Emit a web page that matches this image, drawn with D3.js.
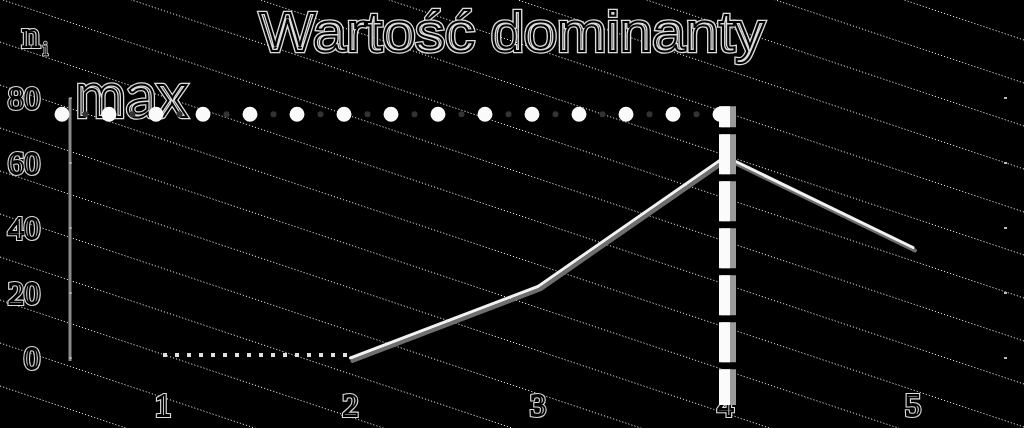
<!DOCTYPE html>
<html>
<head>
<meta charset="utf-8">
<script src="https://cdn.jsdelivr.net/npm/d3@7"></script>
<style>
  html, body { margin: 0; padding: 0; background: #000; }
  svg { display: block; filter: grayscale(1); }
</style>
</head>
<body>
<svg id="chart" width="1024" height="428"></svg>
<script>
// values
const categories = [1, 2, 3, 4, 5];
const counts = [0, 0, 22, 62, 34];
const yTicks = [0, 20, 40, 60, 80];
const maxLevel = 75;      // level of the dotted "max" line
const modeCategory = 4;   // where the dashed marker stands

const width = 1024;
const height = 428;

const svg = d3.select("#chart");

svg.append("rect")
  .attr("width", width)
  .attr("height", height)
  .attr("fill", "#000");

const x = d3.scalePoint().domain(categories).range([163, 913]);
const y = d3.scaleLinear().domain([0, 80]).range([358, 98]);

// slanted dotted background lines
const slope = 0.334;
const gap = 43;
svg.append("g")
  .selectAll("line")
  .data(d3.range(-9, 11))
  .join("line")
  .attr("x1", 0)
  .attr("y1", (k) => k * gap - 1)
  .attr("x2", width)
  .attr("y2", (k) => k * gap - 1 + slope * width)
  .attr("stroke", "#e6e6e6")
  .attr("stroke-width", 1)
  .attr("stroke-dasharray", "1.2,2");

// outlined text helper (double edge look)
function outlined(g, txt, attrs, outer, inner) {
  const a = g.append("text").text(txt);
  const b = g.append("text").text(txt);
  Object.entries(attrs).forEach(([k, v]) => { a.attr(k, v); b.attr(k, v); });
  a.attr("fill", "none").attr("stroke", "#dcdcdc").attr("stroke-width", outer);
  b.attr("fill", "none").attr("stroke", "#000").attr("stroke-width", inner);
  return [a, b];
}

const labels = svg.append("g");

// title
outlined(labels, "Wartość dominanty", {
  x: 512, y: 51, "text-anchor": "middle",
  "font-family": "'Liberation Sans', sans-serif", "font-size": 56,
  textLength: 505, lengthAdjust: "spacingAndGlyphs"
}, 4.5, 2);

// y tick labels
yTicks.forEach((t) => {
  outlined(labels, t, {
    x: 40, y: y(t) + 11, "text-anchor": "end",
    "font-family": "'Liberation Serif', serif", "font-size": 32
  }, 4, 1.8);
});

// x tick labels
categories.forEach((c) => {
  outlined(labels, c, {
    x: x(c), y: 416, "text-anchor": "middle",
    "font-family": "'Liberation Serif', serif", "font-size": 32
  }, 4, 1.8);
});

// n_i axis title
outlined(labels, "n", {
  x: 22, y: 47, "font-family": "'Liberation Serif', serif", "font-size": 36
}, 4, 1.8);
outlined(labels, "i", {
  x: 43, y: 55, "font-family": "'Liberation Serif', serif", "font-size": 18
}, 2.5, 1);

// "max" label
outlined(labels, "max", {
  x: 75, y: 117, "font-family": "Lato, 'Open Sans', sans-serif", "font-size": 62
}, 4.5, 2);

// y axis line with small ticks
const axisX = 70;
svg.append("line")
  .attr("x1", axisX).attr("x2", axisX)
  .attr("y1", y(80)).attr("y2", y(0) + 3)
  .attr("stroke", "#8a8a8a")
  .attr("stroke-width", 3);
svg.append("g")
  .selectAll("line")
  .data(yTicks)
  .join("line")
  .attr("x1", axisX - 1).attr("x2", axisX + 2)
  .attr("y1", (d) => y(d)).attr("y2", (d) => y(d))
  .attr("stroke", "#cfcfcf")
  .attr("stroke-width", 1);

// little right-side tick marks
svg.append("g")
  .selectAll("rect")
  .data(yTicks)
  .join("rect")
  .attr("x", 1004).attr("y", (d) => y(d) - 1)
  .attr("width", 3).attr("height", 2)
  .attr("fill", "#bbb");

// dotted zero stretch between the first two categories
svg.append("line")
  .attr("x1", x(categories[0])).attr("x2", x(categories[1]))
  .attr("y1", y(counts[0]) - 3).attr("y2", y(counts[1]) - 3)
  .attr("stroke", "#e0e0e0")
  .attr("stroke-width", 4)
  .attr("stroke-dasharray", "4,8");

// main line from the second category on
const pts = categories.map((c, i) => [x(c), y(counts[i])]).slice(1);
const line = d3.line();
svg.append("path")
  .attr("d", line(pts))
  .attr("transform", "translate(2,3)")
  .attr("fill", "none")
  .attr("stroke", "#6e6e6e")
  .attr("stroke-width", 4)
  .attr("stroke-linecap", "round")
  .attr("stroke-linejoin", "round");
svg.append("path")
  .attr("d", line(pts))
  .attr("fill", "none")
  .attr("stroke", "#f2f2f2")
  .attr("stroke-width", 3)
  .attr("stroke-linecap", "round")
  .attr("stroke-linejoin", "round");

// dotted max line
const mx = x(modeCategory);
svg.append("line")
  .attr("x1", axisX - 8).attr("x2", mx)
  .attr("y1", y(maxLevel)).attr("y2", y(maxLevel))
  .attr("stroke", "#333")
  .attr("stroke-width", 6)
  .attr("stroke-linecap", "round")
  .attr("stroke-dasharray", "0,47")
  .attr("stroke-dashoffset", -23.5);
svg.append("line")
  .attr("x1", axisX - 8).attr("x2", mx)
  .attr("y1", y(maxLevel)).attr("y2", y(maxLevel))
  .attr("stroke", "#fafafa")
  .attr("stroke-width", 15)
  .attr("stroke-linecap", "round")
  .attr("stroke-dasharray", "0,47");

// dashed marker at the mode
svg.append("line")
  .attr("x1", mx + 3).attr("x2", mx + 3)
  .attr("y1", y(maxLevel) - 8).attr("y2", 405)
  .attr("stroke", "#9a9a9a")
  .attr("stroke-width", 15)
  .attr("stroke-dasharray", "40,7")
  .attr("stroke-dashoffset", 19);
svg.append("line")
  .attr("x1", mx - 1).attr("x2", mx - 1)
  .attr("y1", y(maxLevel) - 8).attr("y2", 405)
  .attr("stroke", "#fbfbfb")
  .attr("stroke-width", 11)
  .attr("stroke-dasharray", "40,7")
  .attr("stroke-dashoffset", 19);
</script>
</body>
</html>
